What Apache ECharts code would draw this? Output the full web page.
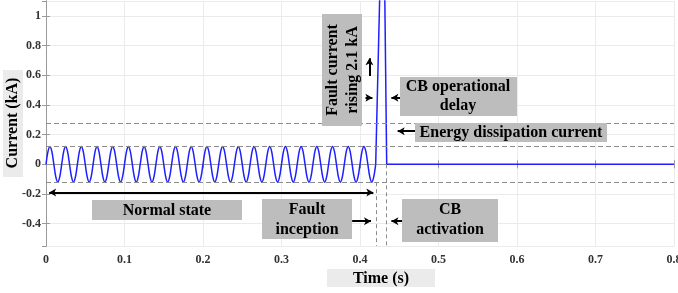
<!DOCTYPE html>
<html>
<head>
<meta charset="utf-8">
<title>Fault current</title>
<script src="https://cdn.jsdelivr.net/npm/echarts@6.0.0/dist/echarts.min.js"></script>
<style>
  html, body { margin: 0; padding: 0; background: #fff; }
  #chart { width: 678px; height: 293px; }
</style>
</head>
<body>
<div id="chart"></div>
<script>
// sampling step of the normal-state trace (s)
var sampleStep = 0.0025;
// normal state current (kA), one row per 50 Hz cycle
var normalI = [
  0, 0.085, 0.12, 0.085, 0, -0.085, -0.12, -0.085,
  0, 0.085, 0.12, 0.085, 0, -0.085, -0.12, -0.085,
  0, 0.085, 0.12, 0.085, 0, -0.085, -0.12, -0.085,
  0, 0.085, 0.12, 0.085, 0, -0.085, -0.12, -0.085,
  0, 0.085, 0.12, 0.085, 0, -0.085, -0.12, -0.085,
  0, 0.085, 0.12, 0.085, 0, -0.085, -0.12, -0.085,
  0, 0.085, 0.12, 0.085, 0, -0.085, -0.12, -0.085,
  0, 0.085, 0.12, 0.085, 0, -0.085, -0.12, -0.085,
  0, 0.085, 0.12, 0.085, 0, -0.085, -0.12, -0.085,
  0, 0.085, 0.12, 0.085, 0, -0.085, -0.12, -0.085,
  0, 0.085, 0.12, 0.085, 0, -0.085, -0.12, -0.085,
  0, 0.085, 0.12, 0.085, 0, -0.085, -0.12, -0.085,
  0, 0.085, 0.12, 0.085, 0, -0.085, -0.12, -0.085,
  0, 0.085, 0.12, 0.085, 0, -0.085, -0.12, -0.085,
  0, 0.085, 0.12, 0.085, 0, -0.085, -0.12, -0.085,
  0, 0.085, 0.12, 0.085, 0, -0.085, -0.12, -0.085,
  0, 0.085, 0.12, 0.085, 0, -0.085, -0.12, -0.085,
  0, 0.085, 0.12, 0.085, 0, -0.085, -0.12, -0.085,
  0, 0.085, 0.12, 0.085, 0, -0.085, -0.12, -0.085,
  0, 0.085, 0.12, 0.085, 0, -0.085, -0.12, -0.085,
  0, 0.085, 0.12, 0.085, 0, -0.085, -0.12, -0.085,
  0
];
// fault and breaker operation (s, kA)
var faultT = [0.42, 0.4295, 0.434, 0.8];
var faultI = [0, 2.1, 0, 0];
// dashed reference levels (kA) and event times (s)
var refLevels = [0.28, 0.12, -0.12];
var faultTime = 0.4206;
var cbTime = 0.4333;

var normalData = normalI.map(function (v, i) { return [i * sampleStep, v]; });
var faultData = faultT.map(function (t, i) { return [t, faultI[i]]; });

// annotation arrows: [x1, y1, x2, y2, double-headed]
var arrows = [
  [0.004, -0.189, 0.417, -0.189, true],
  [0.390, -0.383, 0.414, -0.383, false],
  [0.454, -0.383, 0.440, -0.383, false],
  [0.412, 0.595, 0.412, 0.715, false],
  [0.407, 0.448, 0.4158, 0.448, false],
  [0.454, 0.448, 0.440, 0.448, false],
  [0.4707, 0.223, 0.448, 0.223, false]
];

var serif = '"Liberation Serif", "Times New Roman", serif';
var boxFont = 'bold 16px ' + serif;
var dark = '#bdbdbd', light = '#ebebeb';
var dashStyle = { type: [5, 3], color: '#8c8c8c', width: 1 };

var markLines = refLevels.map(function (v) {
  return { yAxis: v, lineStyle: dashStyle };
});
markLines.push([
  { coord: [faultTime, -0.12], lineStyle: { type: [4, 3], color: '#8c8c8c', width: 1 } },
  { coord: [faultTime, -0.55] }
]);
markLines.push([
  { coord: [cbTime, 0], lineStyle: { type: [4, 3], color: '#8c8c8c', width: 1 } },
  { coord: [cbTime, -0.55] }
]);
arrows.forEach(function (a) {
  markLines.push([
    { coord: [a[0], a[1]], symbol: a[4] ? 'arrow' : 'none', symbolSize: [6, 7],
      lineStyle: { type: 'solid', color: '#000', width: 2 } },
    { coord: [a[2], a[3]], symbol: 'arrow', symbolSize: [6, 7] }
  ]);
});

function box(x, y, w, h, color, text, cx, cy, rot, lh) {
  return {
    type: 'group',
    z: 100,
    children: [
      { type: 'rect', z: 100, shape: { x: x, y: y, width: w, height: h }, style: { fill: color } },
      { type: 'text', z: 101, x: cx, y: cy, rotation: rot || 0,
        style: { text: text, font: boxFont, fill: '#000', align: 'center',
                 verticalAlign: 'middle', lineHeight: lh || 20 } }
    ]
  };
}

var chart = echarts.init(document.getElementById('chart'));
var axisLabelStyle = { fontFamily: serif, fontWeight: 'bold', fontSize: 12, color: '#333' };

chart.setOption({
  animation: false,
  grid: { left: 46, right: 4, top: 1, bottom: 47, outerBoundsMode: 'none', containLabel: false },
  xAxis: [{
    type: 'value', min: 0, max: 0.8, interval: 0.1,
    axisLine: { lineStyle: { color: '#9a9a9a' } },
    axisTick: { inside: true, length: 4, lineStyle: { color: '#9a9a9a' } },
    axisLabel: Object.assign({ margin: 8 }, axisLabelStyle),
    splitLine: { lineStyle: { color: '#ebebeb' } }
  }, {
    type: 'value', position: 'top', min: 0, max: 0.8, interval: 0.1,
    axisLine: { show: true, lineStyle: { color: '#9a9a9a' } },
    axisTick: { show: true, inside: true, length: 4, lineStyle: { color: '#9a9a9a' } },
    axisLabel: { show: false }, splitLine: { show: false }
  }],
  yAxis: [{
    type: 'value', min: -0.55, max: 1.1, splitNumber: 8,
    axisLine: { show: true, lineStyle: { color: '#9a9a9a' } },
    axisTick: { show: true, inside: true, length: 4, lineStyle: { color: '#9a9a9a' } },
    axisLabel: Object.assign({ margin: 5, showMinLabel: false, showMaxLabel: false }, axisLabelStyle),
    splitLine: { lineStyle: { color: '#ebebeb' } }
  }, {
    type: 'value', position: 'right', min: -0.55, max: 1.1, splitNumber: 8,
    axisLine: { show: true, lineStyle: { color: '#9a9a9a' } },
    axisTick: { show: true, inside: true, length: 4, lineStyle: { color: '#9a9a9a' } },
    axisLabel: { show: false }, splitLine: { show: false }
  }],
  series: [{
    name: 'Normal', type: 'line', data: normalData, smooth: 0.3,
    showSymbol: false, silent: true,
    lineStyle: { color: '#1f1fff', width: 1.5 },
    markLine: { silent: true, animation: false, symbol: ['none', 'none'],
                label: { show: false }, data: markLines }
  }, {
    name: 'Fault', type: 'line', data: faultData,
    showSymbol: false, silent: true,
    lineStyle: { color: '#1f1fff', width: 1.5 }
  }],
  graphic: [
    box(3, 70, 20, 107, light, 'Current (kA)', 13, 123, Math.PI / 2),
    box(327, 269, 108, 18, light, 'Time (s)', 381, 278.5),
    box(92, 200, 150, 20, dark, 'Normal state', 167, 210.5),
    box(262, 199, 90, 40, dark, 'Fault\ninception', 307, 219.5),
    box(402, 199, 96, 43, dark, 'CB\nactivation', 450, 219.5),
    box(400, 77, 117, 39, dark, 'CB operational\ndelay', 458, 96.5, 0, 19),
    box(415, 123, 192, 19, dark, 'Energy dissipation current', 511, 133),
    box(322, 14, 40, 112, dark, 'Fault current\nrising 2.1 kA', 343, 70, Math.PI / 2)
  ]
});
</script>
</body>
</html>
